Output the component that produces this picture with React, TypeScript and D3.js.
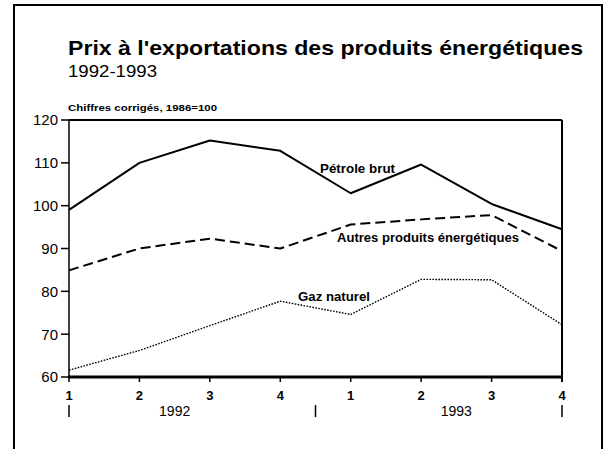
import * as d3 from "d3";

// Quarterly export price indices, 1986=100
const quarters = ["1", "2", "3", "4", "1", "2", "3", "4"];
const years = ["1992", "1993"];
const petrole = [99.0, 110.0, 115.2, 112.8, 102.9, 109.6, 100.4, 94.5];
const autres = [84.9, 90.0, 92.3, 90.0, 95.6, 96.8, 97.8, 89.4];
const gaz = [61.6, 66.2, 72.0, 77.7, 74.6, 82.8, 82.7, 72.2];
const yTicks = [60, 70, 80, 90, 100, 110, 120];

const W = 604;
const H = 449;
const font = "'Liberation Sans', Arial, Helvetica, sans-serif";

const margin = { top: 120, right: 42, bottom: 72, left: 69 };

export default function App() {
  const x = d3
    .scaleLinear()
    .domain([0, quarters.length - 1])
    .range([margin.left, W - margin.right]);
  const y = d3
    .scaleLinear()
    .domain([60, 120])
    .range([H - margin.bottom, margin.top]);

  const line = d3
    .line<number>()
    .x((_, i) => x(i))
    .y((d) => y(d));

  const x0 = x.range()[0];
  const x1 = x.range()[1];
  const yb = y(60);
  const yt = y(120);

  // year separators sit halfway between Q4 and Q1, plus the two ends
  const seps = [0, 3.5, 7];

  return (
    <svg
      width={W}
      height={H}
      style={{ position: "absolute", left: 0, top: 0, background: "#fff" }}
      fontFamily={font}
    >
      {/* outer frame */}
      <path
        d={`M14,${H + 5}V5H602V${H + 5}`}
        fill="none"
        stroke="#000"
        strokeWidth={2}
      />

      <text x={68} y={55} fontSize={21} fontWeight="bold" textLength={515} lengthAdjust="spacingAndGlyphs">
        Prix à l'exportations des produits énergétiques
      </text>
      <text x={68} y={77} fontSize={17} textLength={89} lengthAdjust="spacingAndGlyphs">
        1992-1993
      </text>
      <text x={68} y={111} fontSize={8.5} fontWeight="bold" textLength={149} lengthAdjust="spacingAndGlyphs">
        Chiffres corrigés, 1986=100
      </text>

      {/* plot frame */}
      <line x1={x0} x2={x1} y1={yt} y2={yt} stroke="#000" strokeWidth={2} />
      <line x1={x1} x2={x1} y1={yt} y2={yb + 5} stroke="#000" strokeWidth={2} />
      <line x1={x0} x2={x0} y1={yt} y2={yb} stroke="#000" strokeWidth={1.5} />
      <line x1={x0 - 1} x2={x1 + 1} y1={yb} y2={yb} stroke="#000" strokeWidth={3} />

      {/* y axis */}
      {yTicks.map((t) => (
        <g key={t}>
          <line x1={x0 - 8} x2={x0} y1={y(t)} y2={y(t)} stroke="#000" strokeWidth={1.5} />
          <text x={x0 - 11} y={y(t)} dy="0.36em" textAnchor="end" fontSize={15}>
            {t}
          </text>
        </g>
      ))}

      {/* x axis */}
      {quarters.map((q, i) => (
        <g key={i}>
          <line x1={x(i)} x2={x(i)} y1={yb} y2={yb + 5} stroke="#000" strokeWidth={1.5} />
          <text x={x(i)} y={400} textAnchor="middle" fontSize={13} fontWeight="bold">
            {q}
          </text>
        </g>
      ))}
      {seps.map((s) => (
        <line key={s} x1={x(s)} x2={x(s)} y1={405} y2={417} stroke="#000" strokeWidth={1.5} />
      ))}
      {years.map((yr, i) => (
        <text key={yr} x={x(1.5 + i * 4)} y={416} textAnchor="middle" fontSize={14}>
          {yr}
        </text>
      ))}

      {/* series */}
      <path d={line(petrole) ?? ""} fill="none" stroke="#000" strokeWidth={2} strokeLinejoin="round" />
      <path d={line(autres) ?? ""} fill="none" stroke="#000" strokeWidth={2} strokeDasharray="10,5" />
      <path d={line(gaz) ?? ""} fill="none" stroke="#000" strokeWidth={1.4} strokeDasharray="1.6,1.4" />

      <text x={320} y={173} fontSize={12} fontWeight="bold" textLength={75} lengthAdjust="spacingAndGlyphs">
        Pétrole brut
      </text>
      <text x={337} y={242} fontSize={12} fontWeight="bold" textLength={182} lengthAdjust="spacingAndGlyphs">
        Autres produits énergétiques
      </text>
      <text x={298} y={301} fontSize={12} fontWeight="bold" textLength={72} lengthAdjust="spacingAndGlyphs">
        Gaz naturel
      </text>
    </svg>
  );
}
